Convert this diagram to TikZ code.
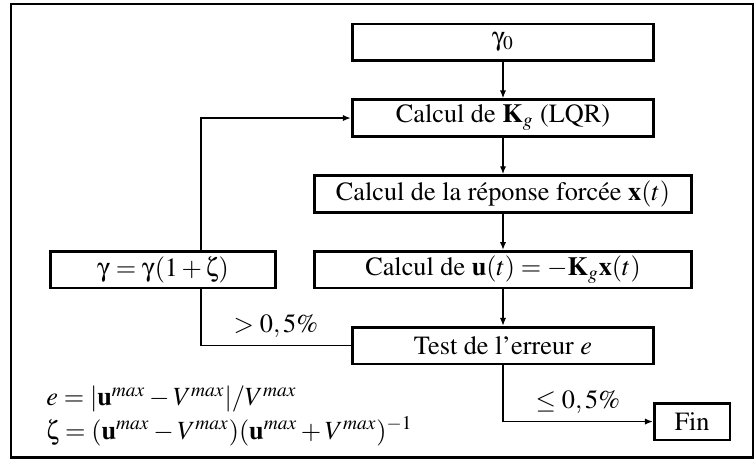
\documentclass[tikz,border=0pt]{standalone}
\usepackage[T1]{fontenc}
\usepackage{mathptmx}
\usepackage[Symbol]{upgreek}
\usepackage{tikz}
\usetikzlibrary{arrows.meta,positioning,calc}

\begin{document}
\begin{tikzpicture}[
x=0.48pt, y=-0.48pt,
node distance=17.5pt,
font=\fontsize{12.6}{15}\selectfont,
bloc/.style={draw, line width=1.3pt, minimum height=17.6pt, inner sep=2pt, align=center},
arrow/.style={-{Latex[length=3.8pt,width=3pt]}, line width=0.7pt},
link/.style={line width=0.7pt}
]
\useasboundingbox (0,0) rectangle (756,460);
\draw[line width=1.3pt] (11,4) rectangle (753,457.5);

\node[bloc, minimum width=144.8pt] (init) at (503,42.2) {$\upgamma_0$};
\node[bloc, minimum width=144.8pt, below=of init] (gain) {Calcul de $\mathbf{K}_g$ (LQR)};
\node[bloc, minimum width=181pt, below=of gain] (rep) {Calcul de la r\'eponse forc\'ee $\mathbf{x}(t)$};
\node[bloc, minimum width=181pt, below=of rep] (cmd) {Calcul de $\mathbf{u}(t)=-\mathbf{K}_g\mathbf{x}(t)$};
\node[bloc, minimum width=108.1pt, left=17.3pt of cmd] (maj) {$\upgamma=\upgamma(1+\upzeta)$};
\node[bloc, minimum width=144.8pt, below=of cmd] (test) {Test de l'erreur $e$};
\node[bloc, minimum width=36.3pt, below right=17.6pt and -1.1pt of test] (fin) {Fin};

\node[anchor=base west] (eqerr) at (39,405.7) {$e=|\mathbf{u}^{max}-V^{max}|/V^{max}$};
\node[anchor=base west] (eqzeta) at (39,439) {$\upzeta=(\mathbf{u}^{max}-V^{max})(\mathbf{u}^{max}+V^{max})^{-1}$};

\coordinate (mlow) at ($(maj.south west)!2/3!(maj.south east)$);
\coordinate (mhigh) at ($(maj.north west)!2/3!(maj.north east)$);

\draw[arrow] (init) -- (gain);
\draw[arrow] (gain) -- (rep);
\draw[arrow] (rep) -- (cmd);
\draw[arrow] (cmd) -- (test);
\draw[arrow] (test) |- node[above, pos=0.75] {$\leq 0,5\%$} (fin);
\draw[link] (test) -| node[above, pos=0.25] {$>0,5\%$} (mlow);
\draw[arrow] (mhigh) |- (gain);
\end{tikzpicture}
\end{document}
